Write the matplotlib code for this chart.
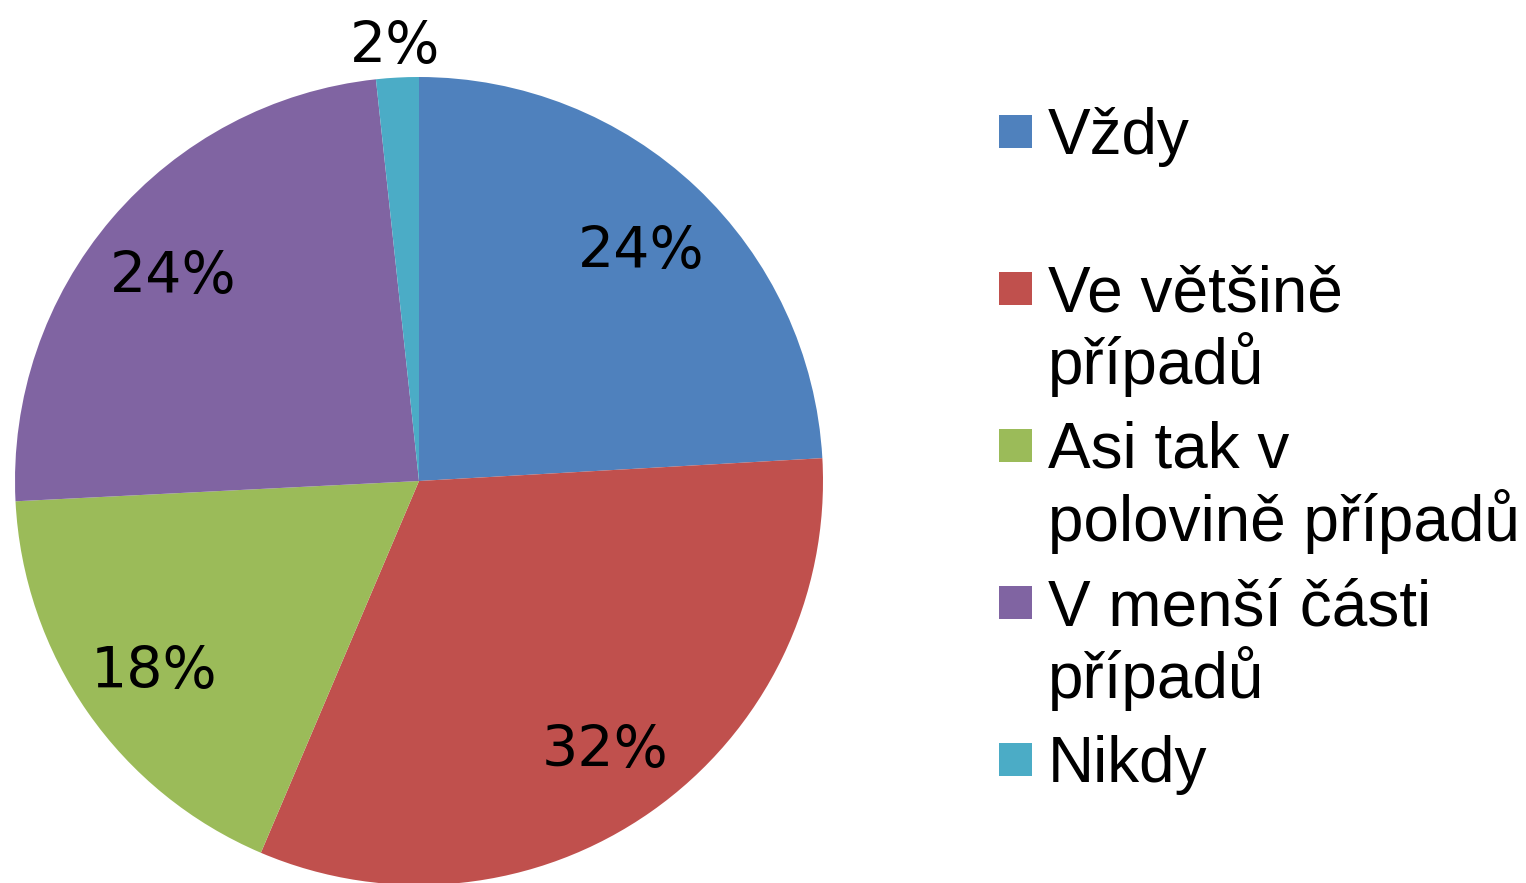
import numpy as np
from matplotlib import pyplot as plt
from matplotlib.patches import Rectangle

# answers and their shares (percent)
labels = ["Vždy", "Ve většině\npřípadů", "Asi tak v\npolovině případů",
          "V menší části\npřípadů", "Nikdy"]
values = [24.1, 32.3, 17.8, 24.1, 1.7]
colors = ["#4F81BD", "#C0504D", "#9BBB59", "#8064A2", "#4BACC6"]

W, H = 1526, 883
fig = plt.figure(figsize=(W / 100, H / 100), dpi=100)

# pie axes placed in pixel terms: centre ~ (419, 481), radius ~404
cx, cy, r = 419, 481, 404
ax = fig.add_axes([(cx - r) / W, (H - cy - r) / H, 2 * r / W, 2 * r / H])
wedges, texts, autotexts = ax.pie(
    values, colors=colors, startangle=90, counterclock=False,
    autopct="%1.0f%%", pctdistance=0.80, radius=1,
    wedgeprops=dict(linewidth=0),
    textprops=dict(fontsize=41, family="DejaVu Sans", color="black"))
ax.set_xlim(-1, 1)
ax.set_ylim(-1, 1)
for t in autotexts:
    t.set_va("center_baseline")

# the tiny slice gets its label outside the pie
w = wedges[-1]
mid = np.deg2rad((w.theta1 + w.theta2) / 2)
autotexts[-1].set_position((1.09 * np.cos(mid), 1.09 * np.sin(mid)))

# legend drawn by hand so the markers sit on even slots like the original
x_box, x_txt = 999, 1048
y0, step = 131, 157
box = 33
line_h = 73
for i, (lab, col) in enumerate(zip(labels, colors)):
    yc = y0 + i * step
    fig.patches.append(Rectangle((x_box / W, (H - yc - box / 2) / H),
                                 box / W, box / H, facecolor=col,
                                 edgecolor="none", transform=fig.transFigure))
    for j, line in enumerate(lab.split("\n")):
        fig.text(x_txt / W, (H - yc - 23 - j * line_h) / H, line,
                 fontsize=46, family="Liberation Sans",
                 va="baseline", ha="left")

fig.savefig("out.png", dpi=100)
